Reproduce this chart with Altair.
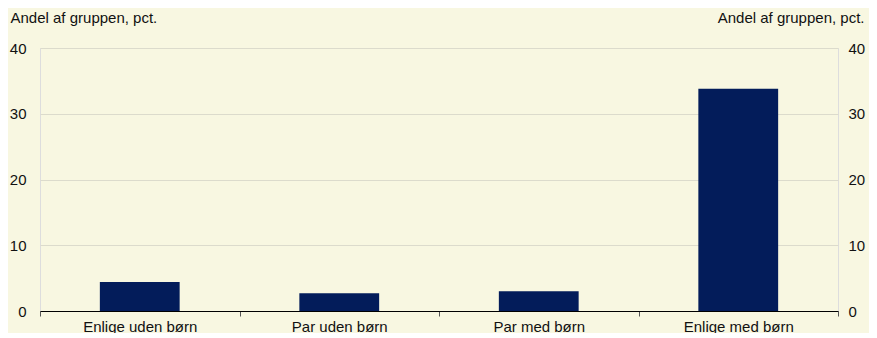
import altair as alt
import pandas as pd

categories = ["Enlige uden børn", "Par uden børn", "Par med børn", "Enlige med børn"]
values = [4.4, 2.7, 3.0, 33.8]
y_ticks = [0, 10, 20, 30, 40]
axis_title = "Andel af gruppen, pct."

df = pd.DataFrame({"cat": categories, "val": values})

FONT = "Liberation Sans"
BG = "#f8f7e1"
BAR = "#031c5a"
FS = 15

x_enc = alt.X(
    "cat:N",
    sort=categories,
    scale=alt.Scale(paddingInner=0, paddingOuter=0),
    axis=alt.Axis(
        title=None, labelAngle=0, tickBand="extent", ticks=True, tickSize=5,
        tickWidth=1, tickColor="#555555", domainColor="#000000",
        labelFontSize=FS, labelColor="#111111", labelPadding=3, grid=False,
        domainWidth=1.2,
    ),
)

bars = alt.Chart(df).mark_bar(color=BAR, width=alt.RelativeBandSize(0.4)).encode(
    x=x_enc,
    y=alt.Y(
        "val:Q",
        scale=alt.Scale(domain=[0, 40]),
        axis=alt.Axis(
            values=y_ticks, title=axis_title, titleAngle=0, titleAlign="left",
            titleBaseline="alphabetic", titleX=-30, titleY=-26, titleFontSize=FS,
            titleFontWeight="normal", titleColor="#111111", labelFontSize=FS,
            labelColor="#111111", ticks=False, labelPadding=14, domain=False,
            grid=True, gridColor="#dcdbcc", gridWidth=1,
        ),
    ),
)

right = alt.Chart(df).mark_bar(opacity=0, width=alt.RelativeBandSize(0.4)).encode(
    x=x_enc,
    y=alt.Y(
        "val:Q",
        scale=alt.Scale(domain=[0, 40]),
        axis=alt.Axis(
            orient="right", values=y_ticks, title=axis_title, titleAngle=0,
            titleAlign="right", titleBaseline="alphabetic", titleX=26, titleY=-26,
            titleFontSize=FS, titleFontWeight="normal", titleColor="#111111",
            labelFontSize=FS, labelColor="#111111", ticks=False, labelPadding=10,
            domain=False, grid=False,
        ),
    ),
)

chart = (
    alt.layer(bars, right)
    .resolve_scale(y="independent")
    .properties(
        width=798, height=263, background=BG,
        padding={"left": 32, "top": 40, "right": 31, "bottom": 22},
        autosize=alt.AutoSizeParams(type="none"),
    )
    .configure_view(stroke=None)
    .configure(font=FONT)
)

chart.save("out.html", embed_options={"renderer": "svg", "actions": False})
